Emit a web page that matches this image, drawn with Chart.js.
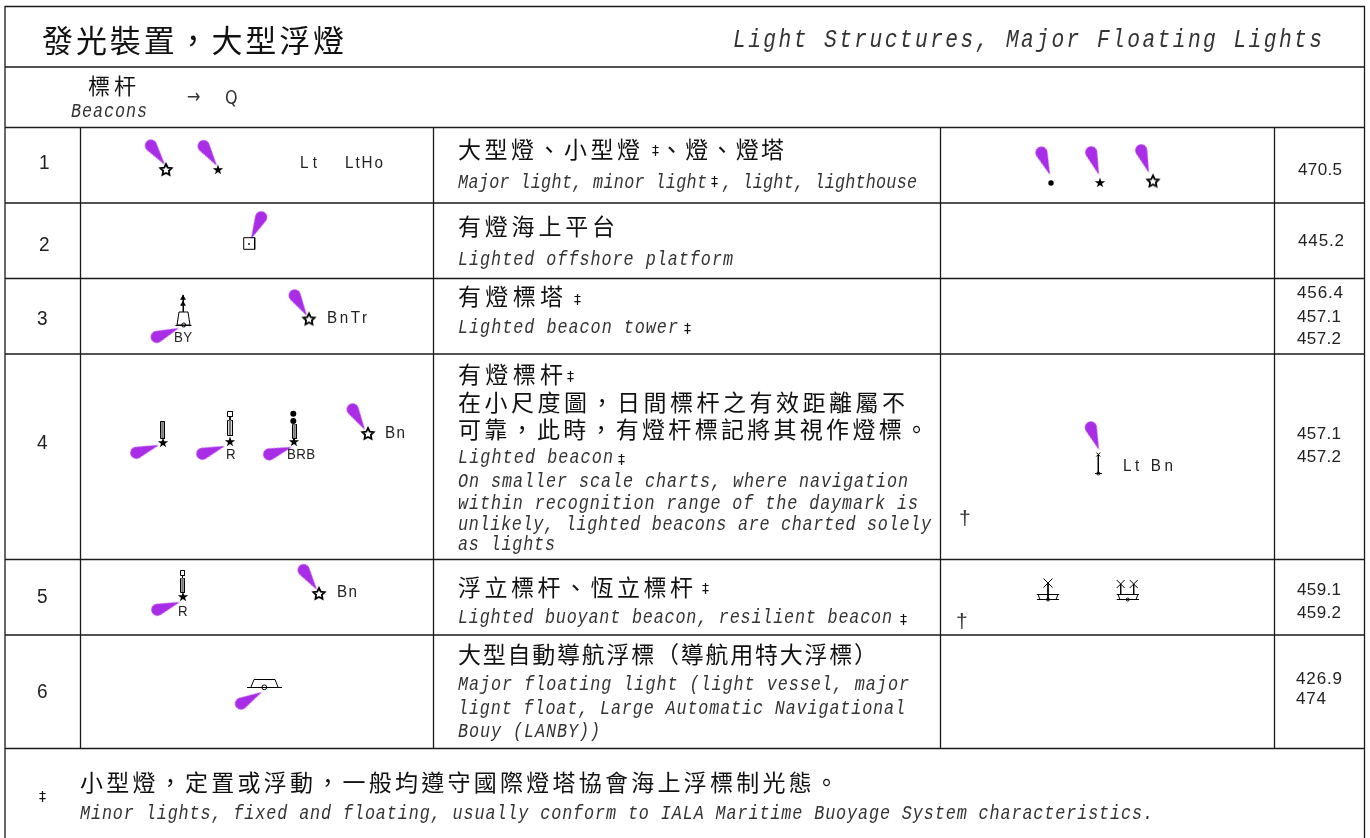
<!DOCTYPE html>
<html lang="zh-Hant">
<head>
<meta charset="utf-8">
<title>發光裝置,大型浮燈</title>
<script src="https://cdn.jsdelivr.net/npm/chart.js@4"></script>
<style>html,body{margin:0;padding:0;background:#fff}canvas{display:block}</style>
</head>
<body>
<canvas id="c" width="1370" height="838"></canvas>
<script>
// ---- text content ----
const titleZh = ['發光裝置\uFF0C大型浮燈'];
const titleEn = ['Light Structures, Major Floating Lights'];
const headerZh = ['標杆'];
const headerEn = ['Beacons'];
const headerRef = ['→', 'Q'];
const rowNumbers = ['1', '2', '3', '4', '5', '6'];
const termsZh = [
  '大型燈、小型燈', '、燈、燈塔', '有燈海上平台', '有燈標塔', '有燈標杆',
  '在小尺度圖\uFF0C日間標杆之有效距離屬不', '可靠\uFF0C此時\uFF0C有燈杆標記將其視作燈標。',
  '浮立標杆、恆立標杆', '大型自動導航浮標\uFF08導航用特大浮標\uFF09',
  '小型燈\uFF0C定置或浮動\uFF0C一般均遵守國際燈塔協會海上浮標制光態。'
];
const termsEn = [
  'Major light, minor light', ', light, lighthouse', 'Lighted offshore platform', 'Lighted beacon tower',
  'Lighted beacon', 'On smaller scale charts, where navigation', 'within recognition range of the daymark is',
  'unlikely, lighted beacons are charted solely', 'as lights', 'Lighted buoyant beacon, resilient beacon',
  'Major floating light (light vessel, major', 'lignt float, Large Automatic Navigational', 'Bouy (LANBY))',
  'Minor lights, fixed and floating, usually conform to IALA Maritime Buoyage System characteristics.'
];
const markLabels = ['Lt', 'LtHo', 'BnTr', 'Bn', 'Bn', 'Lt Bn'];
const colourLabels = ['BY', 'R', 'BRB', 'R'];
const referenceCodes = ['470.5', '445.2', '456.4', '457.1', '457.2', '457.1', '457.2', '459.1', '459.2', '426.9', '474'];
const minorMarks = ['‡', '‡', '‡', '‡', '‡', '‡', '‡', '‡', '‡'];
const daggers = ['†', '†'];

// ---- table rules, in chart units (one unit per pixel of the sheet) ----
const ruleLines = [
  [[5,6.5],[1365,6.5]], [[5,6],[5,838]], [[1364.5,6],[1364.5,838]],
  [[5,67],[1365,67]], [[5,127.5],[1365,127.5]], [[5,203],[1365,203]], [[5,278.5],[1365,278.5]],
  [[5,354],[1365,354]], [[5,559.5],[1365,559.5]], [[5,635],[1365,635]], [[5,748.5],[1365,748.5]],
  [[80.5,127],[80.5,748]], [[433.5,127],[433.5,748]], [[940.5,127],[940.5,748]], [[1274.5,127],[1274.5,748]]
];

// ---- chart marks ----
const flareTips = [
  {x:165,y:165},{x:217,y:166},{x:251,y:239},{x:179,y:328},{x:307,y:316},
  {x:159,y:445},{x:225,y:446},{x:292,y:447},{x:365,y:430},{x:180,y:602},
  {x:317,y:590},{x:262,y:692},{x:1050,y:175},{x:1099,y:175},{x:1149,y:173},{x:1099,y:450}
];
const flareBearings = [-36,-34,25,-112,-31,-109,-109,-108,-31,-109,-34,-119,-21,-19,-19,-20];
const openStars = [{x:166,y:170},{x:309,y:319.5},{x:368,y:434},{x:319,y:594},{x:1153,y:181.5}];
const solidStars = [{x:218,y:170},{x:163,y:443},{x:230,y:442},{x:294,y:442},{x:183,y:597},{x:1100,y:183}];
const solidDots = [{x:1051,y:183},{x:293.3,y:413.7},{x:293.3,y:421},{x:249,y:244}];
const dotSizes = [2.7,3,3,0.9];
const arrowHeads = [{x:183,y:298},{x:183,y:304}];
const openDots = [{x:183.7,y:325},{x:264.3,y:687.3},{x:1098.3,y:473.5},{x:1048,y:599.5},{x:1127.7,y:599.5}];
const openDotSizes = [2,2.4,1.5,1.5,1.5];
const beaconBodies = [
  [[162.5,422],[162.5,438]], [[230,420],[230,435]], [[294.5,424],[294.5,438]], [[182.5,578],[182.5,592]]
];
const markStrokes = [
  // offshore platform
  [[243.7,237.7],[254.7,237.7],[254.7,249.3],[243.7,249.3],[243.7,237.7]],
  // beacon tower
  [[183.3,295],[183.3,312]], [[179,312],[188,312],[190,325],[177,325],[179,312]], [[175.5,325.5],[191.5,325.5]],
  // beacons
  [[160.5,421.5],[164.5,421.5],[164.5,438.5],[160.5,438.5],[160.5,421.5]],
  [[227.5,420.5],[232.5,420.5],[232.5,435.5],[227.5,435.5],[227.5,420.5]],
  [[227.5,411.5],[232.5,411.5],[232.5,416.5],[227.5,416.5],[227.5,411.5]], [[230,416.5],[230,420.5]],
  [[292.5,424.5],[296.5,424.5],[296.5,438.5],[292.5,438.5],[292.5,424.5]],
  [[180.5,578.5],[184.5,578.5],[184.5,592.5],[180.5,592.5],[180.5,578.5]],
  [[180.5,570.5],[184.5,570.5],[184.5,575.5],[180.5,575.5],[180.5,570.5]], [[182.5,575.5],[182.5,578.5]],
  // major floating light
  [[247,687.5],[282,687.5]], [[251,687],[254,679.5],[275,679.5],[278,687]],
  // buoyant beacon on resilient mount
  [[1098.3,455],[1098.3,473]], [[1095,473.5],[1102,473.5]], [[1096.3,452.5],[1100.3,456.5]], [[1100.3,452.5],[1096.3,456.5]],
  // single mast vessel
  [[1048,583],[1048,599]], [[1036.7,594.5],[1059.3,594.5]], [[1038,594.5],[1040,599.5],[1056,599.5],[1058,594.5]], [[1037,599.5],[1059,599.5]],
  [[1043.5,578.5],[1052.5,587.5]], [[1052.5,578.5],[1043.5,587.5]],
  // two mast vessel
  [[1120.7,584],[1120.7,594]], [[1133.7,584],[1133.7,594]],
  [[1116.7,594.5],[1139,594.5]], [[1118,594.5],[1120,599.5],[1136,599.5],[1138,594.5]], [[1116.7,599.5],[1139,599.5]],
  [[1116.7,580],[1124.7,588]], [[1124.7,580],[1116.7,588]], [[1129.7,580],[1137.7,588]], [[1137.7,580],[1129.7,588]]
];

// ---- where the text goes: [x, baseline y, width] ----
const POS_TITLE_ZH = [[42,52,302]];
const POS_TITLE_EN = [[733,47,589]];
const POS_HEAD_ZH = [[88,94,48]];
const POS_HEAD_EN = [[71,117,76]];
const POS_HEAD_REF = [[187,103],[225,104]];
const POS_ROWS = [[39,169],[39,251],[37,325],[37,449],[37,603],[37,698]];
const POS_ZH = [[458,158,182],[660,158,124],[458,235,157],[458,305,105],[458,383,105],[458,411,447],[458,438,470],[458,596,235],[458,663,419],[80,791,758]];
const POS_EN = [[458,188,249],[722,188,195],[458,265,275],[458,333,220],[458,463,155],[458,487,450],[458,509,460],[458,530,473],[458,550,97],[458,623,434],[458,690,451],[458,714,447],[458,737,142],[80,819,1073]];
const POS_MARK = [[300,168,17],[345,168,38],[327,323,40],[385,438,20],[337,597,20],[1123,471,50]];
const POS_COLOUR = [[174,342,18],[226,459],[287,459,28],[178,616]];
const POS_REF = [[1298,175,44],[1298,246,46],[1297,298,46],[1297,322,44],[1297,344,44],[1297,439,44],[1297,462,44],[1297,595,44],[1297,618,44],[1296,684,46],[1296,704,30]];
const POS_MINOR = [[652,155],[574,304],[567,381],[711,186],[684,333],[618,464],[702,593],[900,624],[39,801]];
const POS_DAG = [[959,525],[956,628]];

const ZH_FONT = "'Noto Sans CJK TC'";
const EN_FONT = "'Liberation Mono'";
const SANS = "'Liberation Sans'";

// sx is a horizontal squeeze that gives the narrow plotter lettering of the sheet
const textGroups = [
  {s:titleZh, p:POS_TITLE_ZH, f:`400 31px ${ZH_FONT}`, c:'#111', sx:1},
  {s:titleEn, p:POS_TITLE_EN, f:`italic 25px ${EN_FONT}`, c:'#333', sx:.85},
  {s:headerZh, p:POS_HEAD_ZH, f:`400 22px ${ZH_FONT}`, c:'#111', sx:1},
  {s:headerEn, p:POS_HEAD_EN, f:`italic 21px ${EN_FONT}`, c:'#333', sx:.8},
  {s:headerRef, p:POS_HEAD_REF, f:`20px 'DejaVu Sans'`, c:'#333', sx:.8},
  {s:rowNumbers, p:POS_ROWS, f:`20px ${SANS}`, c:'#222', sx:.95},
  {s:termsZh, p:POS_ZH, f:`400 23px ${ZH_FONT}`, c:'#111', sx:1},
  {s:termsEn, p:POS_EN, f:`italic 21px ${EN_FONT}`, c:'#333', sx:.8},
  {s:markLabels, p:POS_MARK, f:`16px ${SANS}`, c:'#222', sx:.95},
  {s:colourLabels, p:POS_COLOUR, f:`14px ${SANS}`, c:'#222', sx:.95},
  {s:referenceCodes, p:POS_REF, f:`17px ${SANS}`, c:'#222', sx:1},
  {s:minorMarks, p:POS_MINOR, f:`14px 'DejaVu Sans'`, c:'#111', sx:1},
  {s:daggers, p:POS_DAG, f:`21px ${SANS}`, c:'#333', sx:1}
];

// ---- point artwork ----
function makeFlare() {
  const cv = document.createElement('canvas'); cv.width = cv.height = 70;
  const g = cv.getContext('2d'), d = 24, r = 6, phi = Math.acos(r / d);
  g.fillStyle = '#a92ce6'; g.beginPath(); g.moveTo(35, 35);
  g.arc(35, 35 - d, r, Math.PI / 2 + phi, Math.PI / 2 - phi, false);
  g.closePath(); g.fill();
  return cv;
}
function makeStar(open) {
  const cv = document.createElement('canvas'); cv.width = cv.height = 20;
  const g = cv.getContext('2d'), R = open ? 6 : 5.4, q = open ? 3 : 2.1;
  g.beginPath();
  for (let i = 0; i < 10; i++) {
    const a = -Math.PI / 2 + i * Math.PI / 5, rr = i % 2 ? q : R;
    g[i ? 'lineTo' : 'moveTo'](10 + rr * Math.cos(a), 10 + rr * Math.sin(a));
  }
  g.closePath();
  if (open) { g.fillStyle = '#fff'; g.fill(); g.lineWidth = 1.8; g.strokeStyle = '#000'; g.stroke(); }
  else { g.fillStyle = '#000'; g.fill(); }
  return cv;
}
const joinStrokes = list => list.flatMap((line, i) =>
  (i ? [{x:NaN, y:NaN}] : []).concat(line.map(([x, y]) => ({x, y}))));
const lineSet = (list, color, width) => ({
  type:'scatter', data:joinStrokes(list), showLine:true, spanGaps:false,
  borderColor:color, borderWidth:width, pointRadius:0, fill:false
});
const pointSet = (data, style, extra) => Object.assign({
  type:'scatter', data, pointStyle:style, pointRadius:4, showLine:false,
  pointBackgroundColor:'#000', pointBorderColor:'#000', pointBorderWidth:0
}, extra);

const sheetText = {
  id:'sheetText',
  afterDatasetsDraw(chart) {
    const {ctx, scales:{x, y}} = chart;
    ctx.save();
    ctx.textBaseline = 'alphabetic'; ctx.textAlign = 'left';
    for (const grp of textGroups) {
      ctx.font = grp.f; ctx.fillStyle = grp.c;
      grp.s.forEach((str, i) => {
        const [px, py, w] = grp.p[i];
        ctx.letterSpacing = '0px';
        if (w) {
          const n = [...str].length;
          const natural = ctx.measureText(str).width;
          ctx.letterSpacing = (n > 1 ? (w / grp.sx - natural) / (n - 1) : 0) + 'px';
        }
        ctx.save();
        ctx.translate(x.getPixelForValue(px), y.getPixelForValue(py));
        ctx.scale(grp.sx, 1);
        ctx.fillText(str, 0, 0);
        ctx.restore();
      });
    }
    ctx.restore();
  }
};

new Chart(document.getElementById('c'), {
  type:'scatter',
  data:{datasets:[
    lineSet(ruleLines, '#1a1a1a', 1.3),
    lineSet(beaconBodies, '#777', 2.5),
    lineSet(markStrokes, '#000', 1),
    pointSet(solidDots, 'circle', {pointRadius:dotSizes}),
    pointSet(arrowHeads, 'triangle', {pointRadius:3.4}),
    pointSet(openDots, 'circle', {pointRadius:openDotSizes, pointBackgroundColor:'#fff', pointBorderWidth:1}),
    pointSet(solidStars, makeStar(false)),
    pointSet(openStars, makeStar(true)),
    pointSet(flareTips, makeFlare(), {pointRotation:flareBearings})
  ]},
  options:{
    responsive:false, animation:false, events:[],
    layout:{padding:0, autoPadding:false},
    plugins:{legend:{display:false}, tooltip:{enabled:false}, title:{display:false}},
    scales:{
      x:{type:'linear', min:0, max:1370, display:false},
      y:{type:'linear', min:0, max:838, reverse:true, display:false}
    }
  },
  plugins:[sheetText]
});
</script>
</body>
</html>
